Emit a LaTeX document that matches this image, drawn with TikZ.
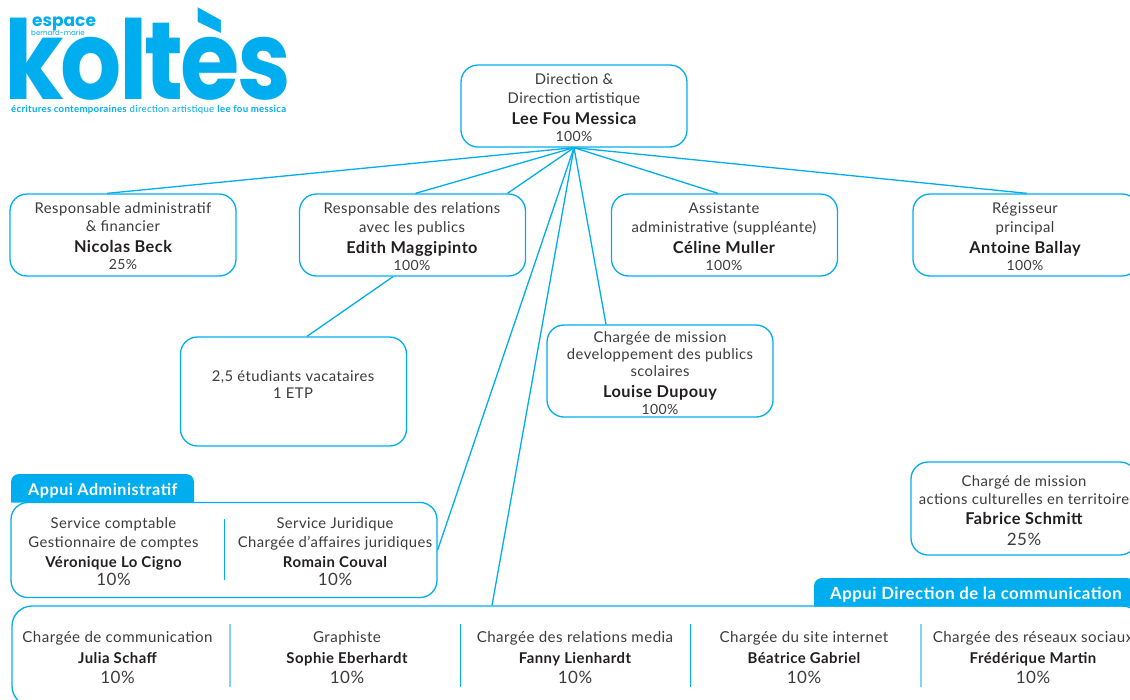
\documentclass[tikz,border=0pt]{standalone}
\usepackage{fontspec}
\setmainfont{Lato}[LetterSpace=3]
\newfontfamily\logofont{Poppins}
\definecolor{kblue}{HTML}{00AEEF}
\definecolor{ktext}{HTML}{3C3C3C}
\definecolor{kname}{HTML}{231F20}
\definecolor{kdiv}{HTML}{7FD3F5}
\newcommand{\nm}[1]{{\fontsize{16.3}{19}\selectfont\bfseries\color{kname}#1}}
\newcommand{\nms}[1]{{\fontsize{14.9}{19}\selectfont\bfseries\color{kname}#1}}
\newcommand{\pc}[1]{{\fontsize{14}{16}\selectfont #1}}
\newcommand{\pcb}[1]{{\fontsize{17}{19}\selectfont #1}}
\tikzset{
  x=1pt,y=-1pt,
  orgbox/.style={draw=kblue,line width=1.3pt,rounded corners=17pt,fill=white,inner sep=0pt,minimum width=226pt,minimum height=82pt},
  lab/.style={align=center,inner sep=0pt,text=ktext,anchor=north,font=\fontsize{14.8}{19}\selectfont},
  tight/.style={font=\fontsize{14.8}{17}\selectfont},
  wide/.style={font=\fontsize{15.1}{19}\selectfont},
  link/.style={draw=kblue,line width=1.3pt},
  divider/.style={draw=kblue,line width=1pt},
  softdiv/.style={draw=kdiv,line width=1.5pt},
  tabtext/.style={text=white,inner sep=0pt,anchor=west},
  logotxt/.style={text=kblue,inner sep=0pt,anchor=base west}
}
\begin{document}
\begin{tikzpicture}
\useasboundingbox (0,0) rectangle (1130,699);
\fill[white] (0,0) rectangle (1130,699);
% logo
\node[logotxt,xscale=0.875,text height=78pt,text depth=0pt,font=\fontsize{110}{110}\selectfont\logofont\bfseries] (logok) at (4,99) {\addfontfeature{LetterSpace=-3}koltès};
\node[logotxt,font=\fontsize{17}{17}\selectfont\logofont\bfseries] (logoa) at (32,26) {espace};
\node[logotxt,font=\fontsize{7.1}{8}\selectfont\logofont] (logob) at (31,35.5) {bernard-marie};
\node[logotxt,font=\fontsize{9.65}{10}\selectfont] (logoc) at (11,112) {\textbf{écritures contemporaines} direction artistique \textbf{lee fou messica}};
% boxes
\node[orgbox] (hub) at (574,106) {};
\node[orgbox] (beck) at (123,235) {};
\node[orgbox] (edith) at (412.5,235) {};
\node[orgbox] (celine) at (724.5,235) {};
\node[orgbox] (antoine) at (1026,235) {};
\node[orgbox,minimum height=92pt] (louise) at (660,371) {};
\node[orgbox,minimum height=109pt] (etud) at (293.5,391.5) {};
\node[orgbox,minimum height=93pt] (fabrice) at (1024,508.5) {};
\node[orgbox,minimum width=426pt,minimum height=95pt] (admin) at (224,550) {};
\node[orgbox,minimum width=1130pt,minimum height=100pt,rounded corners=20pt] (comm) at (577,656) {};
% connectors
\coordinate (apex) at (hub.south);
\draw[link] (apex) -- ([xshift=-16pt]beck.north);
\draw[link] (apex) -- ([xshift=3pt]edith.north);
\draw[link] (apex) -- ([xshift=95pt]edith.north);
\draw[link] (apex) -- ([xshift=-6.5pt]celine.north);
\draw[link] (apex) -- ([xshift=1pt]antoine.north);
\draw[link] (apex) -- ([xshift=-54pt]louise.north);
\draw[link] (apex) -- (admin.east);
\draw[link] (apex) -- ([xshift=-85pt]comm.north);
\draw[link] ([xshift=-19.5pt]edith.south) -- ([xshift=13.5pt]etud.north);
% tabs
\fill[kblue] (11,502.5) [rounded corners=8pt] -- (11,474) -- (194,474) [sharp corners] -- (194,502.5) -- cycle;
\node[tabtext,font=\fontsize{16.2}{19}\selectfont\bfseries] (tabadmin) at (28,490.5) {Appui Administratif};
\fill[kblue] (814,606.5) [rounded corners=8pt] -- (814,578) -- (1135,578) [sharp corners] -- (1135,606.5) -- cycle;
\node[tabtext,font=\fontsize{16.8}{19}\selectfont\bfseries] (tabcomm) at (830,594.5) {Appui Direction de la communication};
% dividers
\draw[divider] (224.5,519) -- (224.5,580);
\draw[softdiv] (230,624) -- (230,687);
\draw[divider] (460.5,624) -- (460.5,687);
\draw[divider] (690.5,624) -- (690.5,687);
\draw[softdiv] (921,624) -- (921,687);
% texts
\node[lab] (thub) at (574,73.5) {Direction \&\\Direction artistique\\[2pt]\nm{Lee Fou Messica}\\[-2pt]\pc{100\%}};
\node[lab] (tbeck) at (123,202.5) {Responsable administratif\\[-1pt]\& financier\\[2pt]\nm{Nicolas Beck}\\[-2pt]\pc{25\%}};
\node[lab] (tedith) at (412,202.5) {Responsable des relations\\avec les publics\\[2pt]\nm{Edith Maggipinto}\\[-2pt]\pc{100\%}};
\node[lab] (tceline) at (724,202.5) {Assistante\\administrative (suppléante)\\[2pt]\nm{Céline Muller}\\[-2pt]\pc{100\%}};
\node[lab] (tantoine) at (1025,202.5) {Régisseur\\principal\\[2pt]\nm{Antoine Ballay}\\[-2pt]\pc{100\%}};
\node[lab,tight] (tlouise) at (660,331.5) {Chargée de mission\\developpement des publics\\scolaires\\[4pt]\nm{Louise Dupouy}\\[0pt]\pc{100\%}};
\node[lab,tight] (tetud) at (293,370.5) {2,5 étudiants vacataires\\1 ETP};
\node[lab] (tfab) at (1024,475.5) {Chargé de mission\\[-1pt]actions culturelles en territoire\\[1pt]\nm{Fabrice Schmitt}\\[2pt]\pcb{25\%}};
\node[lab] (tver) at (113.5,517.5) {Service comptable\\Gestionnaire de comptes\\[1pt]\nms{Véronique Lo Cigno}\\[-1pt]\pcb{10\%}};
\node[lab] (trom) at (335,517.5) {Service Juridique\\Chargée d’affaires juridiques\\[1pt]\nms{Romain Couval}\\[-1pt]\pcb{10\%}};
\node[lab,wide] (tjul) at (117.5,631.5) {Chargée de communication\\[2pt]\nms{Julia Schaff}\\[1pt]\pcb{10\%}};
\node[lab,wide] (tsop) at (347,631.5) {Graphiste\\[2pt]\nms{Sophie Eberhardt}\\[1pt]\pcb{10\%}};
\node[lab,wide] (tfan) at (575,631.5) {Chargée des relations media\\[2pt]\nms{Fanny Lienhardt}\\[1pt]\pcb{10\%}};
\node[lab,wide] (tbea) at (804,631.5) {Chargée du site internet\\[2pt]\nms{Béatrice Gabriel}\\[1pt]\pcb{10\%}};
\node[lab,wide] (tfre) at (1033,631.5) {Chargée des réseaux sociaux\\[2pt]\nms{Frédérique Martin}\\[1pt]\pcb{10\%}};
\end{tikzpicture}
\end{document}
